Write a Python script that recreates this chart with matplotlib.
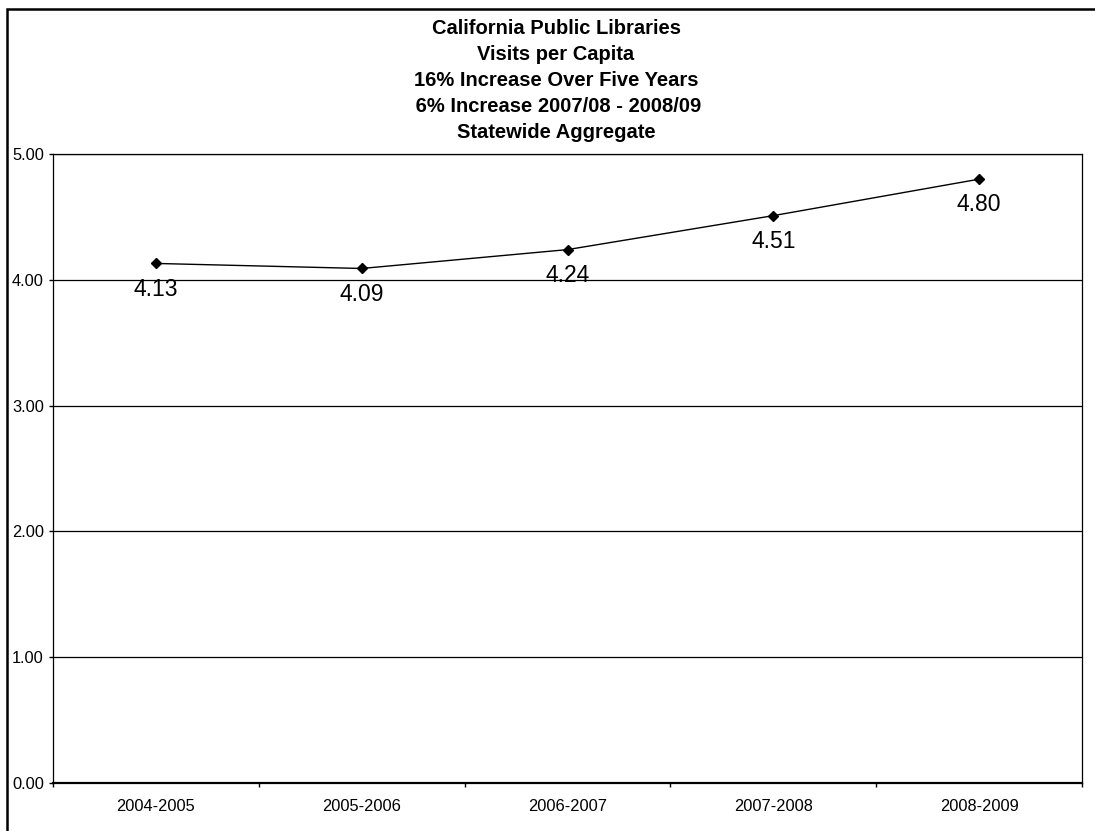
import numpy as np
import matplotlib.pyplot as plt
from matplotlib.patches import Rectangle

plt.rcParams['font.family'] = ['Liberation Sans', 'DejaVu Sans']

# chart data
periods = ['2004-2005', '2005-2006', '2006-2007', '2007-2008', '2008-2009']
visits = [4.13, 4.09, 4.24, 4.51, 4.80]
yticks = [0, 1, 2, 3, 4, 5]
title_lines = [
    'California Public Libraries',
    'Visits per Capita',
    '16% Increase Over Five Years',
    ' 6% Increase 2007/08 - 2008/09',
    'Statewide Aggregate',
]

W, H = 1095, 831
fig = plt.figure(figsize=(W / 100, H / 100), dpi=100)
fig.patch.set_facecolor('white')

# outer chart border (cropped at right and bottom like the scan)
fig.patches.append(Rectangle((7 / W, -0.05), 1.2, (H - 9) / H + 0.05,
                             transform=fig.transFigure, fill=False,
                             edgecolor='black', linewidth=1.8))

ax = fig.add_axes([53 / W, (H - 783) / H, (1082 - 53) / W, (783 - 154) / H])

x = np.arange(len(periods))
ax.plot(x, visits, color='black', linewidth=1.0, marker='D', markersize=5,
        zorder=3)
for xi, v in zip(x, visits):
    ax.annotate(f'{v:.2f}', (xi, v), xytext=(0, -18.5), textcoords='offset points',
                ha='center', va='center', fontsize=16.5, zorder=4)

ax.set_xlim(-0.5, len(periods) - 0.5)
ax.set_ylim(0, 5)
ax.set_yticks(yticks)
ax.set_yticklabels([f'{t:.2f}' for t in yticks], fontsize=11.8)
ax.set_xticks(x)
ax.set_xticklabels(periods, fontsize=11.8)
ax.set_xticks(np.arange(len(periods) + 1) - 0.5, minor=True)
ax.tick_params(axis='x', which='major', length=0, pad=11.5)
ax.tick_params(axis='x', which='minor', length=3, width=1, direction='out')
ax.tick_params(axis='y', length=3, width=1, direction='out', pad=3.5)

ax.grid(axis='y', color='black', linewidth=0.9, zorder=1)
ax.set_axisbelow(True)
for side in ['left', 'top', 'right']:
    ax.spines[side].set_linewidth(0.9)
ax.spines['bottom'].set_linewidth(1.6)

# title lines
y0, step = (H - 28) / H, 26 / H
for i, line in enumerate(title_lines):
    fig.text(556 / W, y0 - i * step, line, ha='center', va='center',
             fontsize=14.5, fontweight='bold')

fig.savefig('out.png', dpi=100)
